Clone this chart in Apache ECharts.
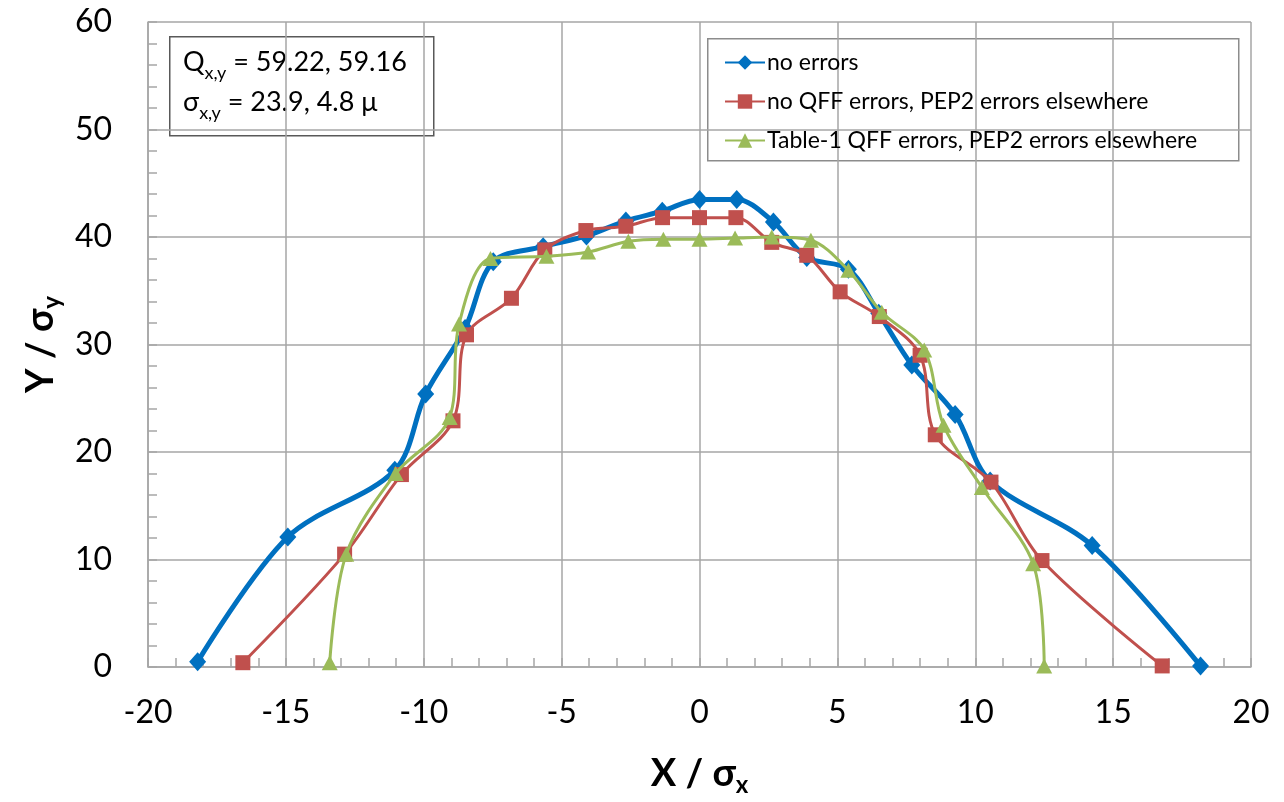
<!DOCTYPE html>
<html><head><meta charset="utf-8">
<script src="https://cdn.jsdelivr.net/npm/echarts@6/dist/echarts.min.js"></script>
<style>html,body{margin:0;padding:0;background:#fff}#c{width:1284px;height:802px}</style>
</head><body><div id="c"></div>
<script>
const seriesNames = ['no errors', 'no QFF errors, PEP2 errors elsewhere', 'Table-1 QFF errors, PEP2 errors elsewhere'];

const noErrX = [-18.2, -14.93, -11.05, -9.93, -8.5, -7.48, -5.67, -4.1, -2.67, -1.35, 0, 1.35, 2.68, 3.89, 5.4, 6.5, 7.7, 9.27, 10.54, 14.24, 18.17];
const noErrY = [0.5, 12.1, 18.3, 25.4, 31.5, 37.7, 39.1, 40.1, 41.5, 42.4, 43.5, 43.5, 41.4, 38.1, 37.0, 32.9, 28.1, 23.5, 17.3, 11.3, 0.1];

const noQffX = [-16.56, -12.87, -10.81, -8.94, -8.45, -6.82, -5.61, -4.12, -2.67, -1.34, 0, 1.32, 2.62, 3.89, 5.1, 6.52, 8.0, 8.55, 10.57, 12.42, 16.78];
const noQffY = [0.4, 10.5, 17.9, 22.9, 30.9, 34.3, 38.8, 40.6, 41.0, 41.8, 41.8, 41.8, 39.5, 38.3, 34.9, 32.6, 29.0, 21.6, 17.2, 9.9, 0.1];

const tableX = [-13.41, -12.81, -11.02, -9.06, -8.72, -7.58, -5.55, -4.04, -2.58, -1.31, 0, 1.29, 2.62, 4.04, 5.4, 6.61, 8.15, 8.85, 10.24, 12.1, 12.5];
const tableY = [0.4, 10.5, 18.0, 23.2, 31.9, 38.0, 38.2, 38.6, 39.6, 39.8, 39.8, 39.9, 40.0, 39.7, 36.9, 33.0, 29.5, 22.5, 16.7, 9.6, 0.1];

const xMin = -20, xMax = 20, xStep = 5;
const yMin = 0, yMax = 60, yStep = 10;

const colors = ['#0070C0', '#C0504D', '#9BBB59'];
const FONT = 'Lato';

function pairs(xs, ys) { return xs.map((x, i) => [x, ys[i]]); }

const chart = echarts.init(document.getElementById('c'), null, {renderer: 'canvas'});

const axisCommon = {
  axisLine: {show: true, onZero: false, lineStyle: {color: '#a6a6a6', width: 1.5}},
  axisTick: {show: true, inside: true, length: 9, lineStyle: {color: '#a6a6a6', width: 1.5}},
  minorTick: {show: true, splitNumber: 5, length: 9, lineStyle: {color: '#a6a6a6', width: 1.5}},
  splitLine: {show: true, lineStyle: {color: '#a6a6a6', width: 1.5}},
  axisLabel: {color: '#000', fontFamily: FONT, fontSize: 32}
};

chart.setOption({
  animation: false,
  backgroundColor: '#fff',
  grid: {left: 148, right: 33, top: 22, bottom: 130, containLabel: false},
  xAxis: Object.assign({}, axisCommon, {
    type: 'value', min: xMin, max: xMax, interval: xStep,
    axisLabel: Object.assign({}, axisCommon.axisLabel, {margin: 30}),
    name: '{b|X / σ}{s|x}', nameLocation: 'middle', nameGap: 84,
    nameTextStyle: {rich: {
      b: {fontFamily: FONT, fontWeight: 'bold', fontSize: 38, color: '#000', lineHeight: 46, verticalAlign: 'middle'},
      s: {fontFamily: FONT, fontWeight: 'bold', fontSize: 24, color: '#000', lineHeight: 24, verticalAlign: 'bottom'}
    }}
  }),
  yAxis: Object.assign({}, axisCommon, {
    type: 'value', min: yMin, max: yMax, interval: yStep,
    axisLabel: Object.assign({}, axisCommon.axisLabel, {margin: 36}),
    name: '{b|Y / σ}{s|y}', nameLocation: 'middle', nameGap: 72,
    nameTextStyle: {rich: {
      b: {fontFamily: FONT, fontWeight: 'bold', fontSize: 38, color: '#000', lineHeight: 46, verticalAlign: 'middle'},
      s: {fontFamily: FONT, fontWeight: 'bold', fontSize: 24, color: '#000', lineHeight: 24, verticalAlign: 'bottom'}
    }}
  }),
  legend: {
    orient: 'vertical', left: 719, top: 46,
    itemWidth: 40, itemHeight: 18, itemGap: 16,
    textStyle: {fontFamily: FONT, fontSize: 23, color: '#000', padding: [0, 0, 0, -3]},
    data: seriesNames
  },
  graphic: [
    {type: 'rect', left: 707, top: 38, z: 0, shape: {width: 531, height: 122},
     style: {fill: '#fff', stroke: '#8c8c8c', lineWidth: 1.5}},
    {type: 'rect', left: 169, top: 36, shape: {width: 264, height: 99},
     style: {fill: '#fff', stroke: '#595959', lineWidth: 1.5}},
    {type: 'text', left: 183, top: 49, style: {
      text: '{m|Q}{s|x,y}{m| = 59.22, 59.16}\n{m|σ}{s|x,y}{m| = 23.9, 4.8 μ}',
      rich: {
        m: {fontFamily: FONT, fontSize: 27, fill: '#000', lineHeight: 40, verticalAlign: 'middle'},
        s: {fontFamily: FONT, fontSize: 18, fill: '#000', lineHeight: 20, verticalAlign: 'bottom'}
      }
    }}
  ],
  series: [
    {name: seriesNames[0], type: 'line', data: pairs(noErrX, noErrY), smooth: 0.33,
     symbol: 'diamond', symbolSize: [17, 19], color: colors[0],
     lineStyle: {width: 5, color: colors[0]}, itemStyle: {color: colors[0]}, z: 2},
    {name: seriesNames[1], type: 'line', data: pairs(noQffX, noQffY), smooth: 0.33,
     symbol: 'rect', symbolSize: 15, color: colors[1],
     lineStyle: {width: 3, color: colors[1]}, itemStyle: {color: colors[1]}, z: 3},
    {name: seriesNames[2], type: 'line', data: pairs(tableX, tableY), smooth: 0.33,
     symbol: 'triangle', symbolSize: [16, 15], color: colors[2],
     lineStyle: {width: 3, color: colors[2]}, itemStyle: {color: colors[2]}, z: 4}
  ]
});
</script></body></html>
